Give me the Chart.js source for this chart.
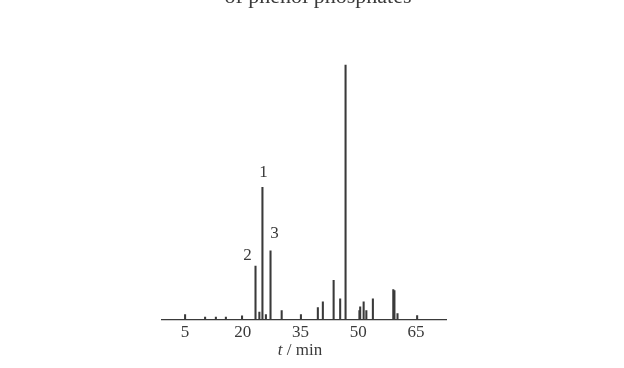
<!DOCTYPE html>
<html>
<head>
<meta charset="utf-8">
<script src="https://cdn.jsdelivr.net/npm/chart.js@4"></script>
<style>
  html, body { margin: 0; padding: 0; background: #fff; }
  #wrap { width: 624px; height: 368px; }
</style>
</head>
<body>
<div id="wrap"><canvas id="chromChart" width="624" height="368"></canvas></div>
<script>
// retention time (min) and relative peak height
var retTimes = [5, 10.2, 13, 15.6, 19.8, 23.3, 24.3, 25.1, 26, 27.2, 30.1, 35.1, 39.5, 40.8, 43.6, 45.3, 46.7, 50.3, 50.5, 51.4, 52.1, 53.8, 59.1, 59.4, 60.2, 65.3];
var heights = [2, 1, 1, 1, 1.5, 21, 3, 52, 2, 27, 3.5, 2, 4.7, 7, 15.4, 8.2, 100, 3.5, 5, 7, 3.5, 8.2, 11.8, 11.4, 2.4, 1.6];
var tickValues = [5, 20, 35, 50, 65];
// numbered peaks: label, retention time
var peakLabels = ['1', '2', '3'];
var peakTimes = [25.1, 23.3, 27.2];

var serif = '"Liberation Serif", "DejaVu Serif", serif';
var ink = '#3a3a3a';

var points = retTimes.map(function (t, i) { return { x: t, y: heights[i] }; });

var textPlugin = {
    id: 'chromText',
    afterDraw: function (chart) {
        var ctx = chart.ctx;
        var xs = chart.scales.x, ys = chart.scales.y;
        // label nudges (px) relative to the peak top
        var dx = [1, -8, 4];
        var dy = [-15, -11, -17];
        ctx.save();
        ctx.fillStyle = ink;
        // cut-off caption at the top
        ctx.font = '22px ' + serif;
        ctx.textAlign = 'center';
        ctx.textBaseline = 'alphabetic';
        ctx.fillText('of phenol phosphates', 318, 3);

        // peak numbers
        ctx.font = '17px ' + serif;
        ctx.textBaseline = 'middle';
        peakTimes.forEach(function (t, i) {
            var h = heights[retTimes.indexOf(t)];
            ctx.fillText(peakLabels[i], xs.getPixelForValue(t) + dx[i], ys.getPixelForValue(h) + dy[i]);
        });

        // axis title: italic t / min
        var cx = 300, cy = 351;
        ctx.textAlign = 'left';
        ctx.font = 'italic 17px ' + serif;
        var wT = ctx.measureText('t').width;
        ctx.font = '17px ' + serif;
        var rest = ' / min';
        var wR = ctx.measureText(rest).width;
        var x0 = cx - (wT + wR) / 2;
        ctx.font = 'italic 17px ' + serif;
        ctx.fillText('t', x0, cy);
        ctx.font = '17px ' + serif;
        ctx.fillText(rest, x0 + wT, cy);
        ctx.restore();
    }
};

new Chart(document.getElementById('chromChart').getContext('2d'), {
    type: 'bar',
    data: {
        datasets: [{
            data: points,
            backgroundColor: ink,
            borderWidth: 0,
            barThickness: 1.4
        }]
    },
    options: {
        responsive: false,
        animation: false,
        events: [],
        layout: { padding: { left: 162, right: 178, top: 60, bottom: 22 } },
        scales: {
            x: {
                type: 'linear',
                min: -1,
                max: 72.8,
                offset: false,
                grid: { display: false, drawTicks: false },
                border: { display: true, color: ink, width: 1.2 },
                afterBuildTicks: function (axis) {
                    axis.ticks = tickValues.map(function (v) { return { value: v }; });
                },
                ticks: {
                    autoSkip: false,
                    maxRotation: 0,
                    padding: 3,
                    color: ink,
                    font: { family: serif, size: 17 }
                }
            },
            y: {
                display: false,
                min: 0,
                max: 102
            }
        },
        plugins: {
            legend: { display: false },
            tooltip: { enabled: false }
        }
    },
    plugins: [textPlugin]
});
</script>
</body>
</html>
